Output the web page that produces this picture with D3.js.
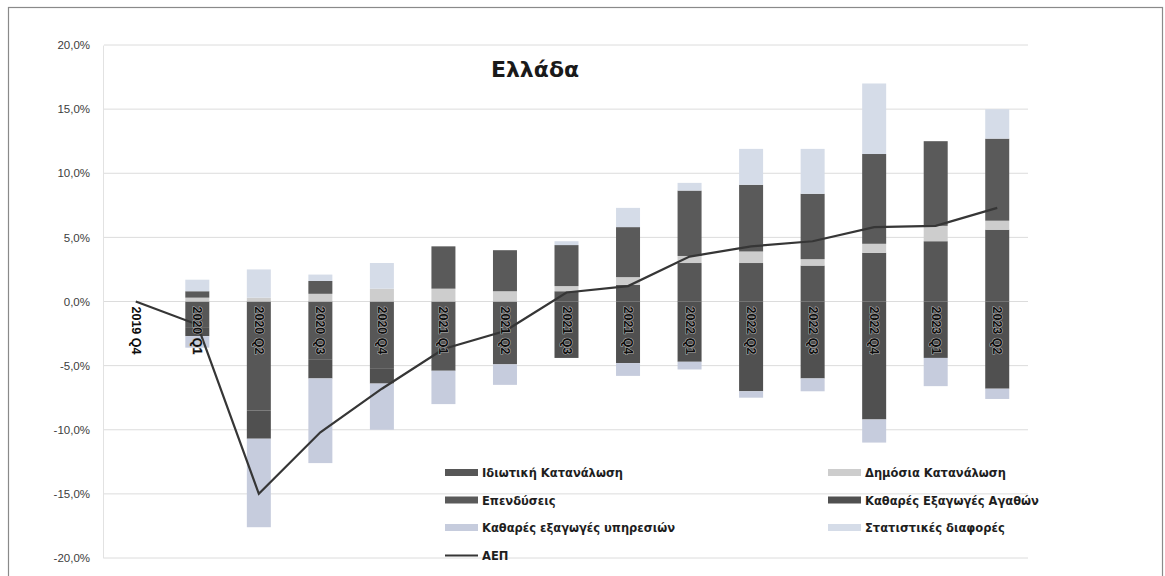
<!DOCTYPE html>
<html>
<head>
<meta charset="utf-8">
<script src="https://cdn.jsdelivr.net/npm/d3@7"></script>
<style>
  body { margin: 0; background: #fff; }
  svg { display: block; }
</style>
</head>
<body>
<svg id="chart" width="1165" height="576"></svg>
<script>
// quarters, change vs 2019 Q4 (%)
const quarters = ['2019 Q4', '2020 Q1', '2020 Q2', '2020 Q3', '2020 Q4', '2021 Q1', '2021 Q2',
  '2021 Q3', '2021 Q4', '2022 Q1', '2022 Q2', '2022 Q3', '2022 Q4', '2023 Q1', '2023 Q2'];

const privateCons = [0, -2.0, -8.5, -4.5, -5.2, -5.4, -4.9, 0.8, 1.3, 3.0, 3.0, 2.8, 3.8, 4.7, 5.6];
const publicCons  = [0, 0.3, 0.3, 0.6, 1.0, 1.0, 0.8, 0.4, 0.6, 0.55, 0.9, 0.5, 0.7, 1.2, 0.7];
const investment  = [0, 0.5, 0, 1.0, 0, 3.3, 3.2, 3.2, 3.9, 5.1, 5.2, 5.1, 7.0, 6.6, 6.4];
const goodsNet    = [0, -0.7, -2.2, -1.5, -1.2, 0, 0, -4.4, -4.8, -4.7, -7.0, -6.0, -9.2, -4.4, -6.8];
const servicesNet = [0, -0.9, -6.9, -6.6, -3.6, -2.6, -1.6, 0, -1.0, -0.6, -0.5, -1.0, -1.8, -2.2, -0.8];
const statDiff    = [0, 0.9, 2.2, 0.5, 2.0, 0, 0, 0.3, 1.5, 0.6, 2.8, 3.5, 5.5, 0, 2.3];
const gdp         = [0, -1.8, -15.0, -10.2, -6.8, -3.7, -2.3, 0.7, 1.2, 3.5, 4.3, 4.7, 5.8, 5.9, 7.3];

const seriesNames = ['Ιδιωτική Κατανάλωση', 'Δημόσια Κατανάλωση', 'Επενδύσεις',
  'Καθαρές Εξαγωγές Αγαθών', 'Καθαρές εξαγωγές υπηρεσιών', 'Στατιστικές διαφορές'];
const lineName = 'ΑΕΠ';
const yTicks = [-20, -15, -10, -5, 0, 5, 10, 15, 20];

const colors = ['#575757', '#cdcdcd', '#5a5a5a', '#505050', '#c6ccdd', '#d5dce8'];

const svg = d3.select('#chart');

// frame of the scanned chart
svg.append('rect')
  .attr('x', 8.5).attr('y', 7.5)
  .attr('width', 1154).attr('height', 575)
  .attr('fill', 'none')
  .attr('stroke', '#8a8a8a')
  .attr('stroke-width', 1.2);

const x = d3.scaleBand()
  .domain(quarters)
  .range([105, 1028])
  .paddingInner(0.61)
  .paddingOuter(0.305);

const y = d3.scaleLinear()
  .domain([-20, 20])
  .range([558, 45]);

// gridlines
svg.append('g')
  .selectAll('line')
  .data(yTicks)
  .join('line')
  .attr('x1', 104).attr('x2', 1028)
  .attr('y1', d => y(d)).attr('y2', d => y(d))
  .attr('stroke', '#dcdcdc')
  .attr('stroke-width', 1);

// y axis
const yAxis = svg.append('g')
  .attr('transform', 'translate(103,0)')
  .call(d3.axisLeft(y)
    .tickValues(yTicks)
    .tickSize(0)
    .tickPadding(13)
    .tickFormat(d => d.toFixed(1).replace('.', ',') + '%'));

yAxis.select('.domain').attr('stroke', '#e2e2e2');
yAxis.selectAll('text')
  .attr('fill', '#3c3c3c')
  .style('font-family', '"Liberation Sans", Arial, sans-serif')
  .style('font-size', '11.5px');

// stacked bars
const table = quarters.map((q, i) => ({
  q,
  s0: privateCons[i], s1: publicCons[i], s2: investment[i],
  s3: goodsNet[i], s4: servicesNet[i], s5: statDiff[i]
}));

const stack = d3.stack()
  .keys(['s0', 's1', 's2', 's3', 's4', 's5'])
  .offset(d3.stackOffsetDiverging);

const layers = stack(table);

svg.append('g')
  .selectAll('g')
  .data(layers)
  .join('g')
  .attr('fill', (d, i) => colors[i])
  .selectAll('rect')
  .data(d => d.filter(v => v[1] !== v[0]))
  .join('rect')
  .attr('x', d => x(d.data.q))
  .attr('width', x.bandwidth())
  .attr('y', d => y(Math.max(d[0], d[1])))
  .attr('height', d => Math.abs(y(d[0]) - y(d[1])));

// GDP line
const line = d3.line()
  .x((d, i) => x(quarters[i]) + x.bandwidth() / 2)
  .y(d => y(d));

svg.append('path')
  .datum(gdp)
  .attr('d', line)
  .attr('fill', 'none')
  .attr('stroke', '#363636')
  .attr('stroke-width', 2.2);

// rotated category labels
svg.append('g')
  .selectAll('text')
  .data(quarters)
  .join('text')
  .attr('transform', d => `translate(${x(d) + x.bandwidth() / 2 - 4},${y(0) + 5}) rotate(90)`)
  .attr('text-anchor', 'start')
  .style('font-family', '"Liberation Sans", Arial, sans-serif')
  .style('font-size', '12.5px')
  .style('font-weight', 'bold')
  .attr('fill', '#0d0d0d')
  .attr('stroke', (d, i) => i ? '#b8b8b8' : 'none')
  .attr('stroke-width', 1)
  .attr('paint-order', 'stroke')
  .text(d => d);

// title
svg.append('text')
  .attr('x', 535).attr('y', 77)
  .attr('text-anchor', 'middle')
  .style('font-family', '"DejaVu Sans", Verdana, sans-serif')
  .style('font-size', '22px')
  .style('font-weight', 'bold')
  .attr('fill', '#1a1a1a')
  .text('Ελλάδα');

// legend, two columns
const legendItems = seriesNames.map((name, i) => ({ name, color: colors[i], type: 'rect' }))
  .concat([{ name: lineName, color: '#363636', type: 'line' }]);

const legend = svg.append('g')
  .selectAll('g')
  .data(legendItems)
  .join('g')
  .attr('transform', (d, i) => `translate(${i % 2 ? 828 : 445},${473 + Math.floor(i / 2) * 27.5})`);

legend.filter(d => d.type === 'rect')
  .append('rect')
  .attr('x', 0).attr('y', -4)
  .attr('width', 33).attr('height', 7)
  .attr('fill', d => d.color);

legend.filter(d => d.type === 'line')
  .append('line')
  .attr('x1', 0).attr('x2', 33)
  .attr('y1', 0).attr('y2', 0)
  .attr('stroke', d => d.color)
  .attr('stroke-width', 2);

legend.append('text')
  .attr('x', 37).attr('y', 4)
  .style('font-family', '"DejaVu Sans", Verdana, sans-serif')
  .style('font-size', '11.5px')
  .style('font-weight', 'bold')
  .attr('fill', '#1e1e1e')
  .text(d => d.name);
</script>
</body>
</html>
